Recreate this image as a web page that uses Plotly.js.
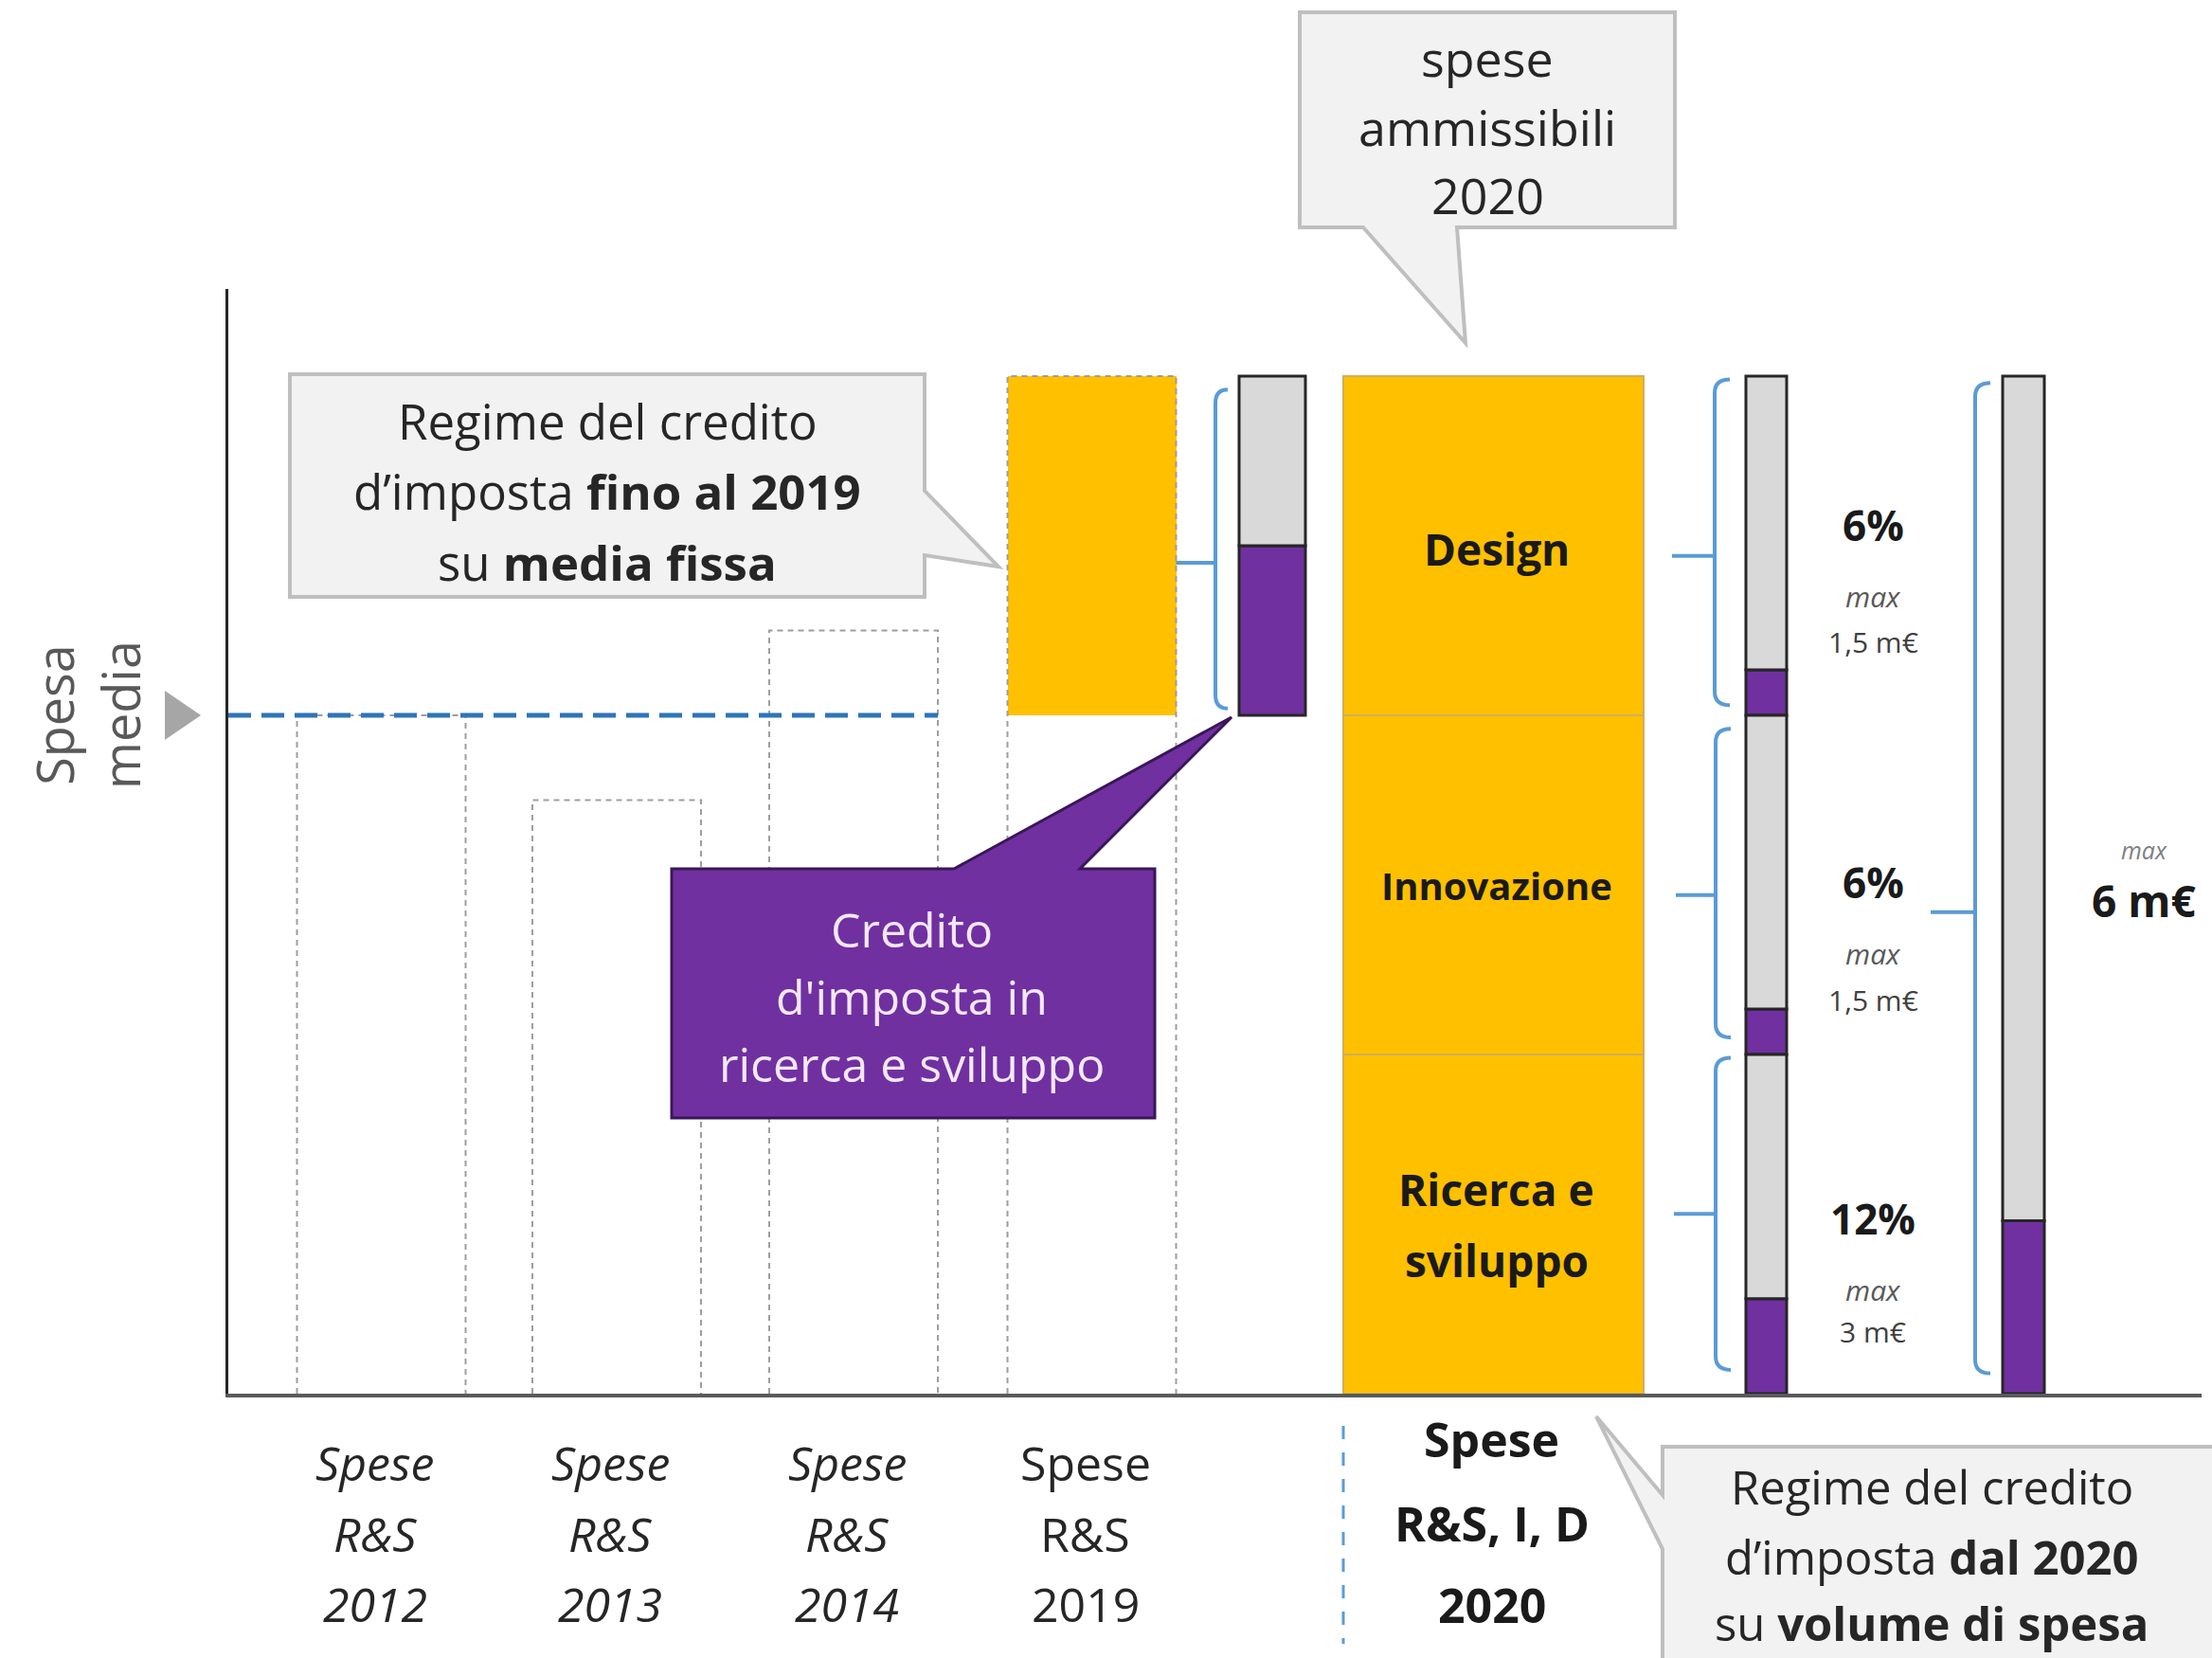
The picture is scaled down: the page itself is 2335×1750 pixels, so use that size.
<!DOCTYPE html>
<html><head><meta charset="utf-8">
<script src="https://cdn.plot.ly/plotly-3.0.1.min.js"></script>
<style>html,body{margin:0;padding:0;background:#fff}</style>
</head><body>
<div id="chart" style="width:2335px;height:1750px"></div>
<script>
// ---------------- data ----------------
const oldYears = ['2012', '2013', '2014', '2019'];
const oldSpese = [2.0, 1.75, 2.25, 3.0];
const oldItalic = [true, true, true, false];
const spesaMedia = 2.0;
const credito2019 = [0.5];
const residuo2019 = [0.5];
const segments2020 = ['Ricerca e sviluppo', 'Innovazione', 'Design'];
const segLabelLines = [['Ricerca e', 'sviluppo'], ['Innovazione'], ['Design']];
const spese2020 = [1, 1, 1];
const creditoSeg = [0.28, 0.134, 0.134];
const creditoTot = [0.51];
const spese2020Tot = [3];
const rateLabels = ['12%', '6%', '6%'];
const capLabels = ['3 m€', '1,5 m€', '1,5 m€'];
const totCapLabel = '6 m€';

// ---------------- layout geometry ----------------
const W = 2335, H = 1750, ML = 241, MR = 11, MT = 305, MB = 279;
const PW = W - ML - MR, PH = H - MT - MB;
const XMAX = PW / 100, YMAX = PH / 358;
const oldPos = [1.615, 4.10, 6.60, 9.115], oldW = 1.78;
const c19Pos = 11.02, c19W = 0.70;
const b20Pos = 13.355, b20W = 3.17;
const segPos = 16.235, segW = 0.43;
const totPos = 18.95, totW = 0.44;

const FONT = 'Open Sans, sans-serif';
const ORANGE = '#FFC000', PURPLE = '#7030A0', GREY = '#D9D9D9', BLUE = '#5B9BD5';
const px = v => (v - ML) / PW;          // pixel x -> paper
const py = v => (H - MB - v) / PH;      // pixel y -> paper

const cum = arr => arr.map((_, i) => arr.slice(0, i).reduce((a, b) => a + b, 0));
const base20 = cum(spese2020);

const traces = [];
// orange part of 2019 (above the average)
traces.push({type: 'bar', x: [oldPos[3]], base: [spesaMedia], y: [oldSpese[3] - spesaMedia], width: oldW,
  marker: {color: ORANGE, line: {width: 0}}, hoverinfo: 'skip'});
// 2020 eligible expenses
traces.push({type: 'bar', x: spese2020.map(() => b20Pos), base: base20, y: spese2020, width: b20W,
  marker: {color: ORANGE, line: {color: '#CFAE5C', width: 2}}, hoverinfo: 'skip'});
// 2019 credit bar
traces.push({type: 'bar', x: [c19Pos], base: [spesaMedia], y: credito2019, width: c19W,
  marker: {color: PURPLE, line: {color: '#262626', width: 3}}, hoverinfo: 'skip'});
traces.push({type: 'bar', x: [c19Pos], base: [spesaMedia + credito2019[0]], y: residuo2019, width: c19W,
  marker: {color: GREY, line: {color: '#262626', width: 3}}, hoverinfo: 'skip'});
// segment credit bar
traces.push({type: 'bar', x: spese2020.map(() => segPos), base: base20, y: creditoSeg, width: segW,
  marker: {color: PURPLE, line: {color: '#262626', width: 3}}, hoverinfo: 'skip'});
traces.push({type: 'bar', x: spese2020.map(() => segPos), base: base20.map((b, i) => b + creditoSeg[i]),
  y: spese2020.map((s, i) => s - creditoSeg[i]), width: segW,
  marker: {color: GREY, line: {color: '#262626', width: 3}}, hoverinfo: 'skip'});
// total credit bar
traces.push({type: 'bar', x: [totPos], base: [0], y: creditoTot, width: totW,
  marker: {color: PURPLE, line: {color: '#262626', width: 3}}, hoverinfo: 'skip'});
traces.push({type: 'bar', x: [totPos], base: creditoTot, y: [spese2020Tot[0] - creditoTot[0]], width: totW,
  marker: {color: GREY, line: {color: '#262626', width: 3}}, hoverinfo: 'skip'});
// dotted outlines of past years
const ox = [], oy = [];
oldSpese.forEach((v, i) => {
  const l = oldPos[i] - oldW / 2, r = oldPos[i] + oldW / 2;
  ox.push(l, l, r, r, null); oy.push(0, v, v, 0, null);
});
traces.push({type: 'scatter', mode: 'lines', x: ox, y: oy, connectgaps: false,
  line: {color: '#9E9E9E', width: 2, dash: '6px,5px'}, hoverinfo: 'skip'});
// average line
traces.push({type: 'scatter', mode: 'lines', x: [0, oldPos[2] + oldW / 2], y: [spesaMedia, spesaMedia],
  line: {color: '#2E75B6', width: 5, dash: '24px,11px'}, hoverinfo: 'skip'});

// ---------------- shapes ----------------
const poly = pts => 'M ' + pts.map(p => px(p[0]).toFixed(5) + ',' + py(p[1]).toFixed(5)).join(' L ') + ' Z';
const shapes = [];
shapes.push({type: 'path', xref: 'paper', yref: 'paper', layer: 'above',
  path: poly([[306,395],[976,395],[976,518],[1054,598],[976,586],[976,630],[306,630]]),
  fillcolor: '#F2F2F2', line: {color: '#BFBFBF', width: 4}});
shapes.push({type: 'path', xref: 'paper', yref: 'paper', layer: 'above',
  path: poly([[1372,13],[1768,13],[1768,240],[1538,240],[1547,362],[1439,240],[1372,240]]),
  fillcolor: '#F2F2F2', line: {color: '#BFBFBF', width: 4}});
shapes.push({type: 'path', xref: 'paper', yref: 'paper', layer: 'above',
  path: poly([[709,917],[1007,917],[1300,757],[1140,917],[1219,917],[1219,1180],[709,1180]]),
  fillcolor: PURPLE, line: {color: '#3A1659', width: 3}});
shapes.push({type: 'path', xref: 'paper', yref: 'paper', layer: 'above',
  path: poly([[1755,1527],[2350,1527],[2350,1770],[1755,1770],[1755,1635],[1685,1495],[1755,1578]]),
  fillcolor: '#F2F2F2', line: {color: '#BFBFBF', width: 4}});
// "spesa media" pointer triangle
shapes.push({type: 'path', xref: 'paper', yref: 'paper', layer: 'above',
  path: poly([[174,729],[212,755],[174,781]]), fillcolor: '#A6A6A6', line: {width: 0}});
// brackets
const bracket = (xv, xh, y0, y1, xt, yt) =>
  `M ${xh},${y1} Q ${xv},${y1} ${xv},${y1 - 0.04} L ${xv},${y0 + 0.04} Q ${xv},${y0} ${xh},${y0} M ${xt},${yt} L ${xv},${yt}`;
const br = [
  bracket(10.42, 10.55, 2.02, 2.96, oldPos[3] + oldW / 2, 2.45),
  bracket(15.69, 15.85, 2.03, 2.99, 15.24, 2.47),
  bracket(15.70, 15.86, 1.05, 1.96, 15.28, 1.47),
  bracket(15.70, 15.86, 0.07, 0.99, 15.26, 0.53),
  bracket(18.44, 18.60, 0.06, 2.98, 17.97, 1.42)
];
br.forEach(p => shapes.push({type: 'path', xref: 'x', yref: 'y', path: p, line: {color: BLUE, width: 4}}));
// dashed separator under 2020
shapes.push({type: 'line', xref: 'paper', yref: 'paper',
  x0: (b20Pos - b20W / 2) / XMAX, x1: (b20Pos - b20W / 2) / XMAX, y0: py(1505), y1: py(1735),
  line: {color: BLUE, width: 3, dash: '14px,14px'}});

// ---------------- annotations ----------------
const ann = [];
const txt = (x, y, text, size, color, opts) => Object.assign({
  xref: 'paper', yref: 'paper', x: px(x), y: py(y), text: text, showarrow: false,
  xanchor: 'center', yanchor: 'middle', font: {family: FONT, size: size, color: color}
}, opts || {});
// callout texts
[['Regime del credito', 444], ['d\u2019imposta <b>fino al 2019</b>', 518], ['su <b>media fissa</b>', 593]]
  .forEach(l => ann.push(txt(641, l[1], l[0], 51, '#262626')));
[['spese', 60], ['ammissibili', 133], ['2020', 205]]
  .forEach(l => ann.push(txt(1570, l[1], l[0], 52, '#262626')));
[['Credito', 981], ['d\'imposta in', 1052], ['ricerca e sviluppo', 1123]]
  .forEach(l => ann.push(txt(962, l[1], l[0], 50, '#F3E8FA')));
[['Regime del credito', 1569], ['d\u2019imposta <b>dal 2020</b>', 1643], ['su <b>volume di spesa</b>', 1713]]
  .forEach(l => ann.push(txt(2039, l[1], l[0], 49, '#262626')));
// labels inside the 2020 bar
const segLineY = [[1255, 1330], [934], [579]];
const segSize = [46, 40, 46];
segLabelLines.forEach((lines, i) => lines.forEach((s, k) => {
  ann.push({xref: 'x', yref: 'paper', x: b20Pos + 0.03, y: py(segLineY[i][k]), text: '<b>' + s + '</b>',
    showarrow: false, xanchor: 'center', yanchor: 'middle', font: {family: FONT, size: segSize[i], color: '#1a1a1a'}});
}));
// y label
ann.push({xref: 'paper', yref: 'y', x: px(92), y: spesaMedia, text: 'Spesa<br>media', showarrow: false,
  textangle: -90, xanchor: 'center', yanchor: 'middle', font: {family: FONT, size: 54, color: '#595959'}});
// x labels
oldYears.forEach((yr, i) => {
  const w = s => oldItalic[i] ? '<i>' + s + '</i>' : s;
  ['Spese', 'R&S', yr].forEach((s, k) => {
    ann.push({xref: 'x', yref: 'paper', x: oldPos[i] - 0.07, y: py([1544, 1619, 1693][k]), text: w(s),
      showarrow: false, xanchor: 'center', yanchor: 'middle', font: {family: FONT, size: 50, color: '#262626'}});
  });
});
['Spese', 'R&S, I, D', '2020'].forEach((s, k) => {
  ann.push({xref: 'x', yref: 'paper', x: b20Pos - 0.02, y: py([1519, 1608, 1694][k]), text: '<b>' + s + '</b>',
    showarrow: false, xanchor: 'center', yanchor: 'middle', font: {family: FONT, size: 50, color: '#1a1a1a'}});
});
// rate labels
const rateY = [[1286, 1361, 1405], [931, 1007, 1055], [554, 629, 677]];
rateLabels.forEach((r, i) => {
  ann.push(txt(1977, rateY[i][0], '<b>' + r + '</b>', 44, '#1a1a1a'));
  ann.push(txt(1977, rateY[i][1], '<i>max</i>', 30, '#595959'));
  ann.push(txt(1977, rateY[i][2], capLabels[i], 30, '#404040'));
});
ann.push(txt(2263, 897, '<i>max</i>', 25, '#7F7F7F'));
ann.push(txt(2263, 950, '<b>' + totCapLabel + '</b>', 46, '#1a1a1a'));

const layout = {
  width: W, height: H, margin: {l: ML, r: MR, t: MT, b: MB, pad: 0},
  paper_bgcolor: '#fff', plot_bgcolor: '#fff', showlegend: false, barmode: 'overlay', bargap: 0,
  hovermode: false,
  xaxis: {range: [0, XMAX], showgrid: false, zeroline: false, showticklabels: false, ticks: '',
    showline: true, linecolor: '#5A5A5A', linewidth: 4, fixedrange: true},
  yaxis: {range: [0, YMAX], showgrid: false, zeroline: false, showticklabels: false, ticks: '',
    showline: true, linecolor: '#262626', linewidth: 3, fixedrange: true},
  shapes: shapes, annotations: ann
};
Plotly.newPlot('chart', traces, layout, {staticPlot: true, displayModeBar: false});
</script>
</body></html>
